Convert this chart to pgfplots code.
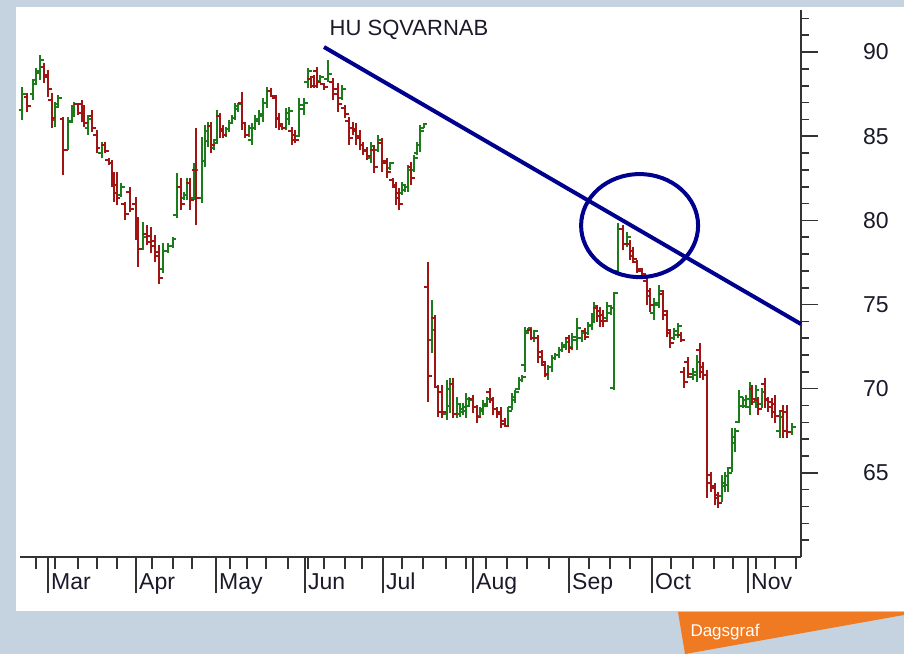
\documentclass[border=0pt]{standalone}
\usepackage{pgfplots}
\pgfplotsset{compat=1.18}
\usepackage{pgfplotstable}
\usepackage{fontspec}
\setmainfont{Liberation Sans}
\definecolor{bg}{HTML}{C5D3E0}
\definecolor{upc}{HTML}{1C7C1C}
\definecolor{dnc}{HTML}{A01414}
\definecolor{trend}{HTML}{00008E}
\definecolor{axisgray}{HTML}{333333}
\definecolor{tabc}{HTML}{F07A22}
\definecolor{txt}{HTML}{1A1A2A}

\pgfplotstableread{
x o h l c
0.6 86.55 87.92 85.96 87.53
3.3 87.51 88.34 87.15 88.10
4.0 88.34 89.05 88.04 88.85
5.0 88.78 89.82 88.34 89.52
8.75 85.99 87.03 85.54 86.73
9.6 86.90 87.45 86.67 87.29
12.1 84.2 86.14 84.18 85.84
12.9 85.9 86.85 85.78 86.6
13.6 86.4 87.03 86.14 86.9
17.1 85.5 86.26 85.07 86.0
20.4 84.0 84.65 83.70 84.5
25.25 81.5 82.22 81.38 82.0
30.8 78.3 79.90 78.24 79.0
35.7 77.1 78.65 76.87 78.2
37.1 78.2 78.65 78.06 78.5
38.2 78.5 79.01 78.35 78.9
39.25 80.3 82.81 80.14 82.0
41 81.3 81.68 81.21 81.5
41.75 81.5 82.51 81.21 82.2
43.5 81.3 83.40 81.21 83.0
45.5 81.3 84.95 81.03 83.5
46.25 83.5 85.66 83.17 85.3
47 84.7 85.84 84.36 85.6
48.5 84.3 84.77 84.18 84.6
49.25 84.8 86.55 84.59 86.2
51.5 85.1 85.54 84.95 85.4
52.25 85.4 85.96 85.25 85.8
53 85.8 86.26 85.78 86.1
53.75 86.1 86.97 85.96 86.8
54.5 86.6 86.97 86.44 86.9
57.25 85.1 85.66 84.95 85.5
58 84.8 85.78 84.47 85.5
58.75 85.5 86.26 85.37 86.0
59.75 85.9 86.55 85.66 86.3
60.75 86.2 87.27 85.84 87.0
61.75 87.0 87.92 86.67 87.7
66.5 85.5 86.67 85.37 86.4
67.25 86.0 86.73 85.66 86.5
69.75 85.0 87.27 84.95 86.85
71 86.6 87.27 86.26 87.0
72 88.2 89.05 87.86 88.9
75 88.3 88.63 88.22 88.5
77 88.4 89.52 88.22 88.7
80.5 87.3 88.04 87.15 87.8
87.75 83.7 84.65 83.40 84.4
89.5 84.2 85.07 84.06 84.8
92.5 83.1 83.46 82.99 83.4
95.5 81.6 82.27 81.50 82.1
96.25 81.8 82.10 81.68 82.0
97.0 82.0 83.29 81.68 83.0
98.6 83.0 83.88 82.87 83.7
99.3 84.0 84.65 83.88 84.5
100.1 84.5 85.66 84.06 85.3
100.9 85.5 85.78 85.48 85.7
103 72.9 75.26 72.11 73.5
106.75 68.5 70.51 68.13 70.0
107.5 69.0 70.63 68.55 70.3
109.25 68.5 69.50 68.25 69.1
110 68.5 69.02 68.31 68.8
110.75 68.6 69.14 68.43 68.9
111.5 68.7 69.74 68.25 69.4
112.25 69.0 69.50 68.91 69.3
115 68.4 68.91 68.25 68.8
115.75 68.7 69.32 68.43 69.1
116.75 69.0 69.50 68.91 69.4
122 67.8 68.91 67.72 68.7
123 68.9 69.74 68.73 69.5
123.75 69.3 69.92 69.14 69.8
124.75 70.0 70.69 69.92 70.5
125.5 70.5 70.81 70.39 70.7
126.25 71.4 73.66 70.99 73.3
127 73.4 73.60 73.36 73.6
128.5 73.0 73.48 72.77 73.4
132 70.8 71.40 70.51 71.3
133 71.3 72.00 70.99 71.8
133.75 71.8 72.11 71.70 72.0
134.75 72.0 72.47 71.82 72.3
135.5 72.3 72.77 72.17 72.6
136.5 72.5 73.01 72.29 72.8
138 72.5 73.30 72.29 73.1
139.25 72.9 74.19 72.29 73.6
140.5 73.0 73.48 72.77 73.3
142 73.3 73.96 73.18 73.8
142.9 73.7 74.49 73.48 74.3
143.6 74.2 75.14 73.90 74.9
146.75 74.2 75.14 73.96 74.9
147.75 74.5 74.97 74.37 74.8
148.5 70.04 75.74 69.92 75.68
149.5 77.0 79.84 76.93 79.5
151.75 78.6 79.30 78.41 79.0
158.5 74.5 75.38 74.08 75.1
159.75 75.0 76.16 74.79 75.8
163.5 73.0 73.60 72.89 73.4
164.5 73.2 73.90 73.01 73.7
168.25 70.7 71.22 70.51 71.0
169.25 70.8 72.00 70.39 71.6
175.5 63.6 64.86 63.26 64.4
176.25 64.2 65.04 63.86 64.8
177 64.3 65.34 63.86 65.0
178 65.3 67.66 65.04 67.1
178.75 66.8 67.66 66.23 67.5
179.75 68.0 69.92 67.96 69.5
180.75 69.0 69.50 68.85 69.3
181.5 69.0 69.62 68.85 69.4
182.4 68.9 70.39 68.43 70.0
183.9 69.2 70.21 68.85 69.9
185.5 69.1 70.04 68.85 69.8
190 67.5 68.73 67.06 68.3
193 67.4 67.96 67.24 67.7
}\uptable

\pgfplotstableread{
x o h l c
1.8 87.34 87.56 86.44 86.78
6.1 89.11 89.35 88.16 88.52
7.1 88.61 88.93 87.33 87.81
7.9 87.14 87.56 85.48 86.10
10.8 86.0 86.14 82.69 84.2
14.4 86.9 86.97 86.26 86.4
15.4 86.9 87.15 85.84 86.2
16.1 86.5 86.85 85.54 85.8
18.1 86.2 86.55 85.25 85.5
19.2 85.1 85.37 84.00 84.3
21.25 84.5 84.65 84.00 84.1
22.25 83.6 83.70 83.29 83.4
22.9 83.4 83.58 81.98 82.4
23.6 82.5 82.87 81.09 81.6
24.2 82.1 82.87 80.91 81.3
26.25 81.0 81.09 80.02 80.4
27.5 81.7 81.98 80.49 80.7
28.9 81.0 81.38 78.83 79.5
29.6 79.6 80.20 77.22 78.3
31.7 79.2 79.72 78.53 78.7
32.7 79.1 79.60 78.06 78.5
33.75 78.8 79.13 77.52 77.9
34.8 78.1 78.53 76.21 76.6
40.25 82.0 82.51 80.61 81.0
42.5 82.2 82.51 80.61 81.2
44 83.0 85.48 79.72 81.3
47.75 85.6 85.84 84.00 84.5
50 86.2 86.38 84.89 85.3
50.75 85.4 85.66 84.89 85.1
55.5 87.0 87.62 85.37 85.8
56.25 85.8 85.84 84.89 85.1
62.75 87.7 87.86 87.33 87.4
64 87.3 87.45 85.48 86.0
64.75 86.1 86.38 85.37 85.6
65.5 85.7 85.78 85.37 85.5
68 85.3 85.54 84.47 84.8
68.75 85.1 85.37 84.59 84.8
72.75 88.4 88.51 87.86 88.0
73.5 88.5 88.63 87.86 88.0
74.25 88.9 89.11 87.86 88.2
76 88.1 88.16 87.74 87.9
78.25 88.2 88.46 87.15 87.5
79.5 87.8 88.16 86.44 86.9
81.25 86.7 86.85 86.08 86.3
82.25 85.9 86.14 84.47 84.9
83.25 85.5 85.84 85.07 85.3
84 85.4 85.78 84.47 84.9
85 85.0 85.37 84.18 84.5
85.75 84.5 84.65 83.88 84.1
86.75 84.2 84.36 83.58 83.8
88.5 84.2 84.47 82.81 83.2
90.5 84.6 84.89 82.87 83.4
91.75 83.5 83.70 82.51 82.9
93.25 82.4 82.51 81.92 82.1
94 82.0 82.27 80.91 81.3
94.75 81.6 81.92 80.61 81.0
97.8 83.2 83.46 82.10 82.5
102 76.04 77.52 69.20 70.75
103.75 74.2 74.37 70.04 70.1
104.5 70.1 70.21 68.31 68.6
105.5 69.8 70.21 68.25 68.6
108.25 70.3 70.63 68.25 68.5
113.25 69.4 69.62 68.55 68.9
114.25 68.9 69.02 67.96 68.3
117.5 69.8 70.04 69.14 69.4
118.25 69.3 69.50 68.43 68.8
119.25 68.8 68.91 68.25 68.5
120.25 68.6 68.91 67.66 67.9
121.25 68.1 68.25 67.72 67.8
127.75 73.5 73.60 72.89 73.0
129.5 73.0 73.18 71.52 71.9
130.5 72.2 72.29 71.40 71.6
131.25 71.4 71.52 70.69 70.9
137.25 73.0 73.18 72.11 72.4
141.25 73.4 73.60 72.89 73.1
144.25 74.8 74.97 73.96 74.3
145 74.6 74.85 73.66 74.0
145.75 74.4 74.67 73.66 74.0
150.75 79.5 79.72 78.24 78.6
152.5 78.6 78.83 77.64 77.9
153.25 78.2 78.41 77.46 77.7
154.25 77.5 77.64 76.87 77.1
155.5 77.0 77.16 76.57 76.8
156.75 76.4 76.63 74.97 75.5
157.5 75.8 75.98 74.55 75.0
160.75 75.6 75.86 74.08 74.6
161.75 74.4 74.67 73.06 73.5
162.5 73.3 73.48 72.41 72.7
165.25 73.2 73.36 72.77 72.9
166 71.0 71.28 70.04 70.4
167 71.6 71.88 70.63 70.9
170 72.3 72.71 70.63 71.0
170.75 71.3 71.58 70.51 70.8
171.75 70.8 71.10 63.50 64.4
172.75 64.9 65.04 63.86 64.2
173.75 64.1 64.39 63.08 63.5
174.5 63.7 63.86 62.90 63.2
183.1 70.0 70.21 69.02 69.4
184.5 69.3 69.50 68.43 68.8
186.25 70.3 70.63 68.85 69.4
187 69.3 69.50 68.61 68.9
188 69.2 69.44 68.25 68.6
188.75 69.1 69.62 67.96 68.4
190.75 68.7 69.02 67.06 67.5
191.75 68.6 69.02 67.06 67.4
}\downtable

\pgfplotsset{
  hl/.style={draw=none, mark=none, forget plot,
    error bars/.cd, y dir=plus, y explicit, error mark=none,
    error bar style={draw=#1, line width=2.1bp}},
  otick/.style={draw=none, mark=none, forget plot,
    error bars/.cd, x dir=minus, x fixed=0.9, error mark=none,
    error bar style={draw=#1, line width=2bp}},
  ctick/.style={draw=none, mark=none, forget plot,
    error bars/.cd, x dir=plus, x fixed=0.9, error mark=none,
    error bar style={draw=#1, line width=2bp}},
}

\begin{document}
\begin{tikzpicture}
\useasboundingbox (0,0) rectangle (904bp,654bp);
\fill[bg] (0,0) rectangle (904bp,654bp);
\fill[white] (16bp,43bp) rectangle (904bp,647bp);
\fill[tabc] (678bp,42bp) -- (904bp,42bp) -- (904bp,39bp) -- (685bp,0bp) -- cycle;
\node[text=white, font=\fontsize{17bp}{20bp}\selectfont] at (725bp,22bp) {Dagsgraf};
\node[text=txt, font=\fontsize{22bp}{26bp}\selectfont] at (409bp,624bp) {HU SQVARNAB};
\begin{axis}[
  at={(20bp,97bp)}, anchor=south west,
  scale only axis, width=781bp, height=547bp,
  xmin=0, xmax=195.25, ymin=60, ymax=92.5,
  axis x line*=bottom, axis y line*=right,
  every outer x axis line/.append style={-},
  every outer y axis line/.append style={-},
  axis line style={-, draw=axisgray, line width=2bp},
  tick align=outside,
  major tick length=17bp, minor tick length=8bp,
  tick style={draw=axisgray, line width=1.6bp},
  xtick style={/pgfplots/major tick length=36bp, /pgfplots/minor tick length=12bp},
  xtick={7,29,49,71.25,90.75,113.25,137.25,158,182},
  xticklabels={Mar,Apr,May,Jun,Jul,Aug,Sep,Oct,Nov},
  minor xtick={4,8.75,14.5,19.25,24.25,33,38.25,43,52.5,56.75,61.5,67,72,76,81.25,85.5,95.5,100.75,106.5,111.5,116.5,121.75,126.75,132.25,142.25,147.5,152.5,162.75,168.25,173.5,178.25,184,188.75,194},
  ytick={65,70,75,80,85,90},
  minor ytick={61,62,63,64,66,67,68,69,71,72,73,74,76,77,78,79,81,82,83,84,86,87,88,89,91,92},
  /pgf/number format/assume math mode=true,
  xticklabel style={anchor=north west, inner sep=0pt, xshift=3bp, yshift=1bp, text=txt, font=\fontsize{23bp}{27bp}\selectfont},
  yticklabel style={anchor=west, inner sep=0pt, xshift=45bp, text=txt, font=\fontsize{23bp}{27bp}\selectfont},
  clip=false,
]
% up bars
\addplot[hl=upc] table[x=x, y=l, y error expr=\thisrow{h}-\thisrow{l}] {\uptable};
\addplot[otick=upc] table[x=x, y=o] {\uptable};
\addplot[ctick=upc] table[x=x, y=c] {\uptable};
% down bars
\addplot[hl=dnc] table[x=x, y=l, y error expr=\thisrow{h}-\thisrow{l}] {\downtable};
\addplot[otick=dnc] table[x=x, y=o] {\downtable};
\addplot[ctick=dnc] table[x=x, y=c] {\downtable};
% trend line
\addplot[trend, line width=4bp, mark=none] coordinates {(76,90.3) (195.25,73.84)};
\draw[trend, line width=4bp] (axis cs:154.9,79.69) ellipse [x radius=58.5bp, y radius=51.5bp];
\end{axis}
\end{tikzpicture}
\end{document}
